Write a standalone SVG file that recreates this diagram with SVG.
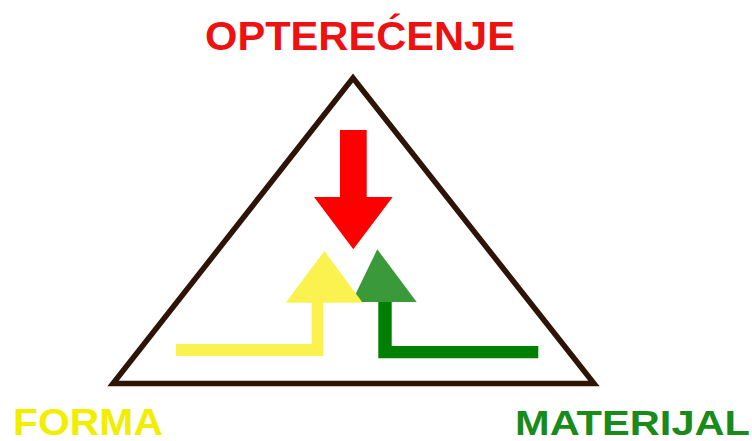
<svg xmlns="http://www.w3.org/2000/svg" width="752" height="441" viewBox="0 0 752 441">
<style>
.lbl{font-family:"Liberation Sans",Arial,sans-serif;font-weight:bold}
</style>
<rect width="752" height="441" fill="#ffffff"/>
<g id="triangle">
<polygon points="353,78 113,383.5 594,383.5" fill="none" stroke="#2e1307" stroke-width="5.5" stroke-linejoin="miter"/>
</g>
<g id="connectors">
<polygon id="load-arrow" points="340,130 366.7,130 366.7,197 392.7,197 353.3,249.3 314,197 340,197" fill="#ff0000"/>
<path id="material-arrow-line" d="M378.3,302 H391.7 V346 H538.3 V358.3 H378.3 Z" fill="#008000"/>
<polygon id="material-arrow-head" points="377.3,249.3 416.7,302 351.7,302" fill="#3a9a3a"/>
<path id="form-arrow-line" d="M311.7,302 H323.3 V356 H176 V344 H311.7 Z" fill="#f9f24f"/>
<polygon id="form-arrow-head" points="324.3,251 362.7,302.7 285.7,302.7" fill="#f9f24f"/>
</g>
<g id="node-opterecenje">
<text class="lbl" x="205" y="50" font-size="40.5" textLength="310" lengthAdjust="spacingAndGlyphs" fill="#ee1111">OPTEREĆENJE</text>
</g>
<g id="node-forma">
<text class="lbl" x="13" y="435" font-size="37" textLength="150" lengthAdjust="spacingAndGlyphs" fill="#f2ee00">FORMA</text>
</g>
<g id="node-materijal">
<text class="lbl" x="515" y="435" font-size="35" textLength="235" lengthAdjust="spacingAndGlyphs" fill="#1a8a1a">MATERIJAL</text>
</g>
</svg>
